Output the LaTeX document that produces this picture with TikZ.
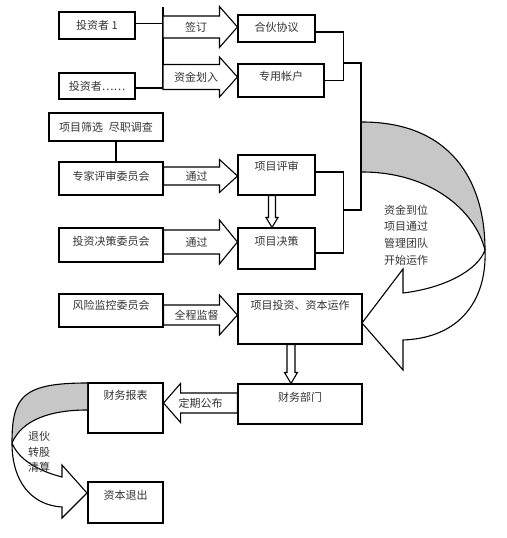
\documentclass[tikz,border=0pt]{standalone}
\usepackage{fontspec}
\setmainfont{Noto Sans CJK SC}
\usetikzlibrary{calc}

\definecolor{backside}{gray}{0.78}
\tikzset{
  box/.style={draw, line width=1.1pt, text height=8pt, text depth=0pt, inner sep=2pt},
  wire/.style={line width=1.1pt},
  blk/.style={draw, line width=1.1pt, fill=white, line join=miter},
  lbl/.style={inner sep=0pt},
  curvearr/.style={line width=1.1pt, line join=miter},
  note/.style={align=center, inner sep=0pt}
}

\newcommand{\blockright}[5]{%
  \draw[blk] let \p1=(#1), \p2=(#2) in
    (\x1,\y2+#3) -- (\x2-18pt,\y2+#3) -- (\x2-18pt,\y2+#4) -- (\x2,\y2)
    -- (\x2-18pt,\y2-#4) -- (\x2-18pt,\y2-#3) -- (\x1,\y2-#3) -- cycle
    ({(\x1+\x2)/2-4pt},\y2) node[lbl] {#5};}
\newcommand{\blockleft}[5]{%
  \draw[blk] let \p1=(#1), \p2=(#2) in
    (\x1,\y2+#3) -- (\x2+17pt,\y2+#3) -- (\x2+17pt,\y2+#4) -- (\x2,\y2)
    -- (\x2+17pt,\y2-#4) -- (\x2+17pt,\y2-#3) -- (\x1,\y2-#3) -- cycle
    ({(\x1+\x2)/2},\y2) node[lbl] {#5};}
\newcommand{\blockdown}[5]{%
  \draw[blk] let \p1=(#1), \p2=(#2) in
    (\x1-#3,\y1) -- (\x1-#3,\y2+#5) -- (\x1-#4,\y2+#5) -- (\x1,\y2)
    -- (\x1+#4,\y2+#5) -- (\x1+#3,\y2+#5) -- (\x1+#3,\y1) -- cycle;}

\begin{document}
\begin{tikzpicture}[x=1pt, y=-1pt,
    every node/.style={font=\fontsize{11pt}{16.6pt}\selectfont, text=black!80}]
    \useasboundingbox (0,0) rectangle (506,538);

    \node[box, minimum width=76pt, minimum height=27pt] (inv1) at (97,25.5) {投资者 1};
    \node[box, minimum width=76pt, minimum height=26pt] (invN) at (97,86) {投资者……};
    \node[box, minimum width=77pt, minimum height=27pt, text depth=2pt] (agree) at (276.5,28.5) {合伙协议};
    \node[box, minimum width=86pt, minimum height=33pt, text depth=9pt] (acct) at (281,80.5) {专用帐户};
    \node[box, minimum width=114pt, minimum height=28pt] (screen) at (106,127) {项目筛选\hspace{6pt}尽职调查};
    \node[box, minimum width=104pt, minimum height=33pt, text depth=5pt] (expert) at (111,178.5) {专家评审委员会};
    \node[box, minimum width=104pt, minimum height=34pt, text depth=8pt] (decide) at (111,245) {投资决策委员会};
    \node[box, minimum width=104pt, minimum height=33pt, text depth=11pt] (risk) at (111,310.5) {风险监控委员会};
    \node[box, minimum width=77pt, minimum height=40pt, text depth=18pt] (review) at (276.5,175) {项目评审};
    \node[box, minimum width=77pt, minimum height=41pt, text depth=15pt] (decision) at (276.5,248.5) {项目决策};
    \node[box, minimum width=124pt, minimum height=50pt, text depth=28pt] (invest) at (300,319) {项目投资、资本运作};
    \node[box, minimum width=124pt, minimum height=40pt, text depth=14pt] (fin) at (300,404) {财务部门};
    \node[box, minimum width=75pt, minimum height=50pt, text depth=26pt] (report) at (125.5,408) {财务报表};
    \node[box, minimum width=75pt, minimum height=41pt, text depth=15pt] (exit) at (125.5,502.5) {资本退出};

    \coordinate (barT) at (163,7);
    \coordinate (barB) at (163,89);
    \draw[wire] (barT) -- (barB);
    \draw[wire] ([yshift=2pt]inv1.east) -- ([yshift=2pt]inv1.east -| barT);
    \draw[wire] ([yshift=-2pt]invN.east) -- ([yshift=-2pt]invN.east -| barT);
    \draw[wire] ([xshift=10pt]screen.south) -- ([xshift=10pt]screen.south |- expert.north);

    \draw[wire] ([yshift=-3.5pt]agree.east) -- ++(28,0) coordinate (j1) |- (acct.east);
    \draw[wire] (j1 |- 0,63) -- (361,63) coordinate (j2) -- (j2 |- 0,210) -- (343,210);
    \draw[wire] ([yshift=3pt]review.east) -- ++(28,0) |- ([yshift=-4.5pt]decision.east);

    \blockright{barT}{[yshift=1.5pt]agree.west}{11pt}{20.5pt}{签订}
    \blockright{barT}{[yshift=3.5pt]acct.west}{12.5pt}{20pt}{资金划入}
    \blockright{expert.east}{[yshift=-1pt]review.west}{9pt}{16.5pt}{通过}
    \blockright{decide.east}{[yshift=6.5pt]decision.west}{12pt}{22pt}{通过}
    \blockright{risk.east}{[yshift=4pt]invest.west}{10pt}{20pt}{全程监督}
    \blockleft{fin.west}{[yshift=5pt]report.east}{10pt}{19.5pt}{定期公布}
    \blockdown{[xshift=-4.5pt]review.south}{[xshift=-4.5pt]decision.north}{3.5pt}{6pt}{10pt}
    \blockdown{[xshift=-9pt]invest.south}{[xshift=-9pt]fin.north}{4pt}{6.5pt}{11pt}

    \fill[backside] (362,122) .. controls (450,122) and (485,180) .. (485,250)
        .. controls (475,210) and (430,172) .. (362,172) -- cycle;
    \draw[curvearr] (362,122) .. controls (450,122) and (485,180) .. (485,250)
        .. controls (487,300) and (460,338) .. (403,340) -- (403,370) -- (362,323)
        -- (403,269) -- (403,293) .. controls (445,288) and (478,270) .. (485,250);
    \draw[curvearr] (362,172) .. controls (430,172) and (475,210) .. (485,250);
    \node[note] (start) at (406,235) {资金到位\\项目通过\\管理团队\\开始运作};

    \fill[backside] (87,383) .. controls (22,383) and (12,397) .. (12,443)
        .. controls (22,420) and (50,410) .. (87,410) -- cycle;
    \draw[curvearr] (87,383) .. controls (22,383) and (12,397) .. (12,443)
        .. controls (12,480) and (30,505) .. (62,507) -- (62,518) -- (87,493)
        -- (62,465) -- (62,477) .. controls (35,470) and (18,458) .. (12,443);
    \draw[curvearr] (87,410) .. controls (50,410) and (22,420) .. (12,443);
    \node[note, font=\fontsize{11pt}{15.5pt}\selectfont] (quit) at (39,452) {退伙\\转股\\清算};
\end{tikzpicture}
\end{document}
